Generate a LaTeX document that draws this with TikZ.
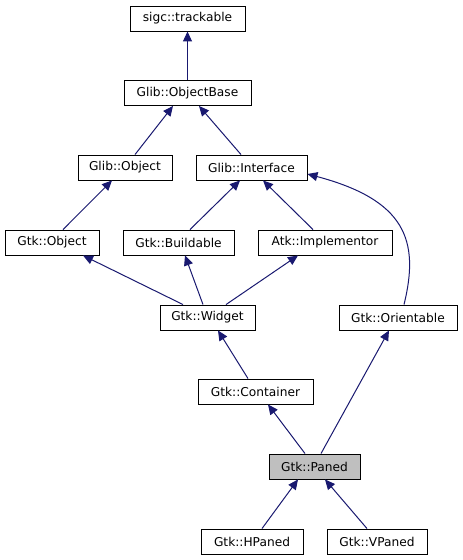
\documentclass[tikz,border=0pt]{standalone}
\usepackage{fontspec}
\setmainfont{DejaVu Sans}
\usetikzlibrary{arrows.meta}
\definecolor{edgeblue}{HTML}{191970}
\definecolor{panedgray}{HTML}{BFBFBF}
\begin{document}
\begin{tikzpicture}[x=1pt,y=-1pt,
  cls/.style={draw=black,line width=0.9pt,fill=white,minimum height=25pt,inner sep=0pt,font=\fontsize{12.2}{14}\selectfont},
  inh/.style={draw=edgeblue,line width=1pt,-{Triangle[length=10pt,width=9pt,fill=edgeblue]}}]
\useasboundingbox[fill=white] (0,0) rectangle (463,560);
\node[cls,minimum width=115pt] (track) at (187.5,18.5) {sigc::trackable};
\node[cls,minimum width=127pt] (obase) at (187.5,93) {Glib::ObjectBase};
\node[cls,minimum width=94pt] (gobj) at (125,167.5) {Glib::Object};
\node[cls,minimum width=111pt] (iface) at (251.5,167.5) {Glib::Interface};
\node[cls,minimum width=94pt] (gtkobj) at (52,242.5) {Gtk::Object};
\node[cls,minimum width=111pt] (build) at (178.5,242.5) {Gtk::Buildable};
\node[cls,minimum width=134pt] (impl) at (325,242.5) {Atk::Implementor};
\node[cls,minimum width=95pt] (widget) at (207.5,317.5) {Gtk::Widget};
\node[cls,minimum width=118pt] (orient) at (398,317.5) {Gtk::Orientable};
\node[cls,minimum width=115pt] (cont) at (255.5,391.5) {Gtk::Container};
\node[cls,minimum width=91pt,fill=panedgray] (paned) at (314.5,466.5) {Gtk::Paned};
\node[cls,minimum width=102pt] (hpaned) at (252,541.5) {Gtk::HPaned};
\node[cls,minimum width=100pt] (vpaned) at (377,541.5) {Gtk::VPaned};

\draw[inh] (obase.north) -- (track.south);
\draw[inh] ([xshift=10pt]gobj.north) -- ([xshift=-14.5pt]obase.south);
\draw[inh] ([xshift=-10.5pt]iface.north) -- ([xshift=11.5pt]obase.south);
\draw[inh] ([xshift=11pt]gtkobj.north) -- ([xshift=-13pt]gobj.south);
\draw[inh] ([xshift=11.5pt]build.north) -- ([xshift=-11.5pt]iface.south);
\draw[inh] ([xshift=-12pt]impl.north) -- ([xshift=11.5pt]iface.south);
\draw[inh] ([xshift=-24.5pt]widget.north) -- ([xshift=31pt]gtkobj.south);
\draw[inh] ([xshift=-4.5pt]widget.north) -- ([xshift=6.5pt]build.south);
\draw[inh] ([xshift=18.5pt]widget.north) -- ([xshift=-27pt]impl.south);
\draw[inh] ([xshift=-7.5pt]cont.north) -- ([xshift=10.5pt]widget.south);
\draw[inh] ([xshift=-9.5pt]paned.north) -- ([xshift=12.5pt]cont.south);
\draw[inh] ([xshift=6.5pt]paned.north) -- ([xshift=-9pt]orient.south);
\draw[inh] ([xshift=10pt]hpaned.north) -- ([xshift=-16.5pt]paned.south);
\draw[inh] ([xshift=-10pt]vpaned.north) -- ([xshift=10.5pt]paned.south);
\draw[inh] ([xshift=6pt]orient.north) .. controls (420,240) and (405,200) .. ([yshift=-6.5pt]iface.east);
\end{tikzpicture}
\end{document}
